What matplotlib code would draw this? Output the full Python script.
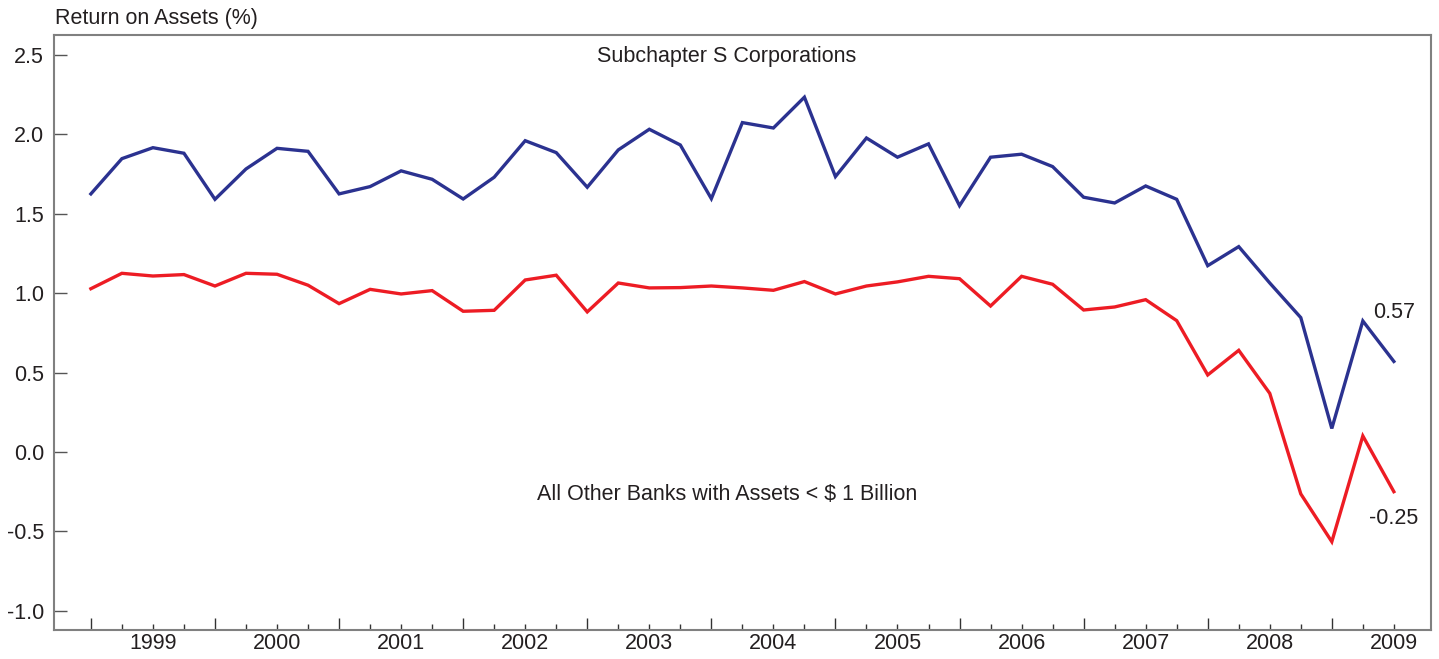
import numpy as np
import matplotlib.pyplot as plt

plt.rcParams['font.family'] = ['Liberation Sans', 'DejaVu Sans']

# Quarterly return on assets (%)
subchapter_s = [1.625, 1.847, 1.916, 1.881, 1.591, 1.782, 1.912, 1.893, 1.625, 1.671,
                1.770, 1.717, 1.593, 1.730, 1.960, 1.885, 1.667, 1.902, 2.032, 1.933,
                1.595, 2.074, 2.040, 2.234, 1.734, 1.977, 1.856, 1.940, 1.551, 1.856,
                1.875, 1.797, 1.604, 1.568, 1.675, 1.591, 1.173, 1.293, 1.064, 0.846,
                0.148, 0.825, 0.57]
other_banks = [1.028, 1.125, 1.108, 1.117, 1.045, 1.125, 1.119, 1.050, 0.934, 1.024,
               0.995, 1.016, 0.886, 0.892, 1.083, 1.113, 0.882, 1.064, 1.033, 1.035,
               1.045, 1.033, 1.018, 1.073, 0.995, 1.045, 1.071, 1.106, 1.091, 0.919,
               1.106, 1.056, 0.894, 0.913, 0.959, 0.827, 0.485, 0.640, 0.369, -0.264,
               -0.565, 0.101, -0.25]
years = ['1999', '2000', '2001', '2002', '2003', '2004', '2005', '2006', '2007', '2008', '2009']

blue = '#2B3290'
red = '#ED1C24'
txt = '#231F20'

x = np.arange(len(subchapter_s))

fig = plt.figure(figsize=(14.39, 6.59), dpi=100)
ax = fig.add_axes([0.0375, 0.044, 0.957, 0.903])

ax.plot(x, subchapter_s, color=blue, lw=2.4, solid_joinstyle='miter')
ax.plot(x, other_banks, color=red, lw=2.4, solid_joinstyle='miter')

ax.set_xlim(-1.19, 43.2)
ax.set_ylim(-1.121, 2.626)

# y axis
ax.set_yticks([-1.0, -0.5, 0.0, 0.5, 1.0, 1.5, 2.0, 2.5])
ax.set_yticklabels(['-1.0', '-0.5', '0.0', '0.5', '1.0', '1.5', '2.0', '2.5'])
ax.tick_params(axis='y', direction='in', length=9.5, width=1.0, color='#555555',
               labelsize=15.5, labelcolor=txt, pad=7)

# x axis: long ticks at year boundaries, short ticks at quarters, labels mid-year
major = [i for i in x if i % 4 == 0]
minor = [i for i in x if i % 4 != 0]
minor_labels = []
k = 0
for i in minor:
    if i % 4 == 2:
        minor_labels.append(years[k])
        k += 1
    else:
        minor_labels.append('')
ax.set_xticks(major)
ax.set_xticklabels([''] * len(major))
ax.set_xticks(minor, labels=minor_labels, minor=True)
ax.tick_params(axis='x', which='major', direction='in', length=8.5, width=1.0, color='#333333')
ax.tick_params(axis='x', which='minor', direction='in', length=4.5, width=1.0, color='#333333',
               labelsize=15.5, labelcolor=txt, pad=2)

for s in ax.spines.values():
    s.set_color('#808080')
    s.set_linewidth(1.5)

fig.text(0.0382, 0.972, 'Return on Assets (%)', fontsize=15.5, color=txt, ha='left', va='center')
ax.text(20.5, 2.49, 'Subchapter S Corporations', fontsize=15.5, color=txt, ha='center', va='center')
ax.text(20.5, -0.265, 'All Other Banks with Assets < $ 1 Billion', fontsize=15.5, color=txt,
        ha='center', va='center')
ax.text(42.0, 0.88, '0.57', fontsize=15.5, color=txt, ha='center', va='center')
ax.text(42.0, -0.42, '-0.25', fontsize=15.5, color=txt, ha='center', va='center')

fig.savefig('out.png', dpi=100)
